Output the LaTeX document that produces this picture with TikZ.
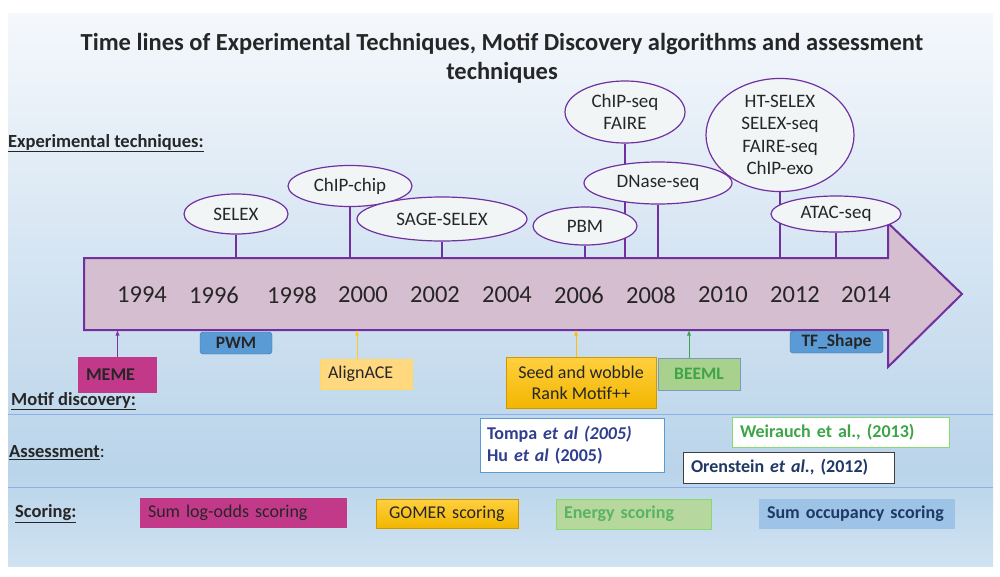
\documentclass[tikz,border=0pt]{standalone}
\usepackage{fontspec}
\setmainfont{Carlito}
\usepackage{tikz}
\usetikzlibrary{shapes.geometric, arrows, backgrounds}
\definecolor{purp}{HTML}{7030A0}
\definecolor{bodyfill}{HTML}{D5BED0}
\definecolor{techfill}{HTML}{F2F5F6}
\definecolor{magenta}{HTML}{C2398A}
\definecolor{pwmblue}{HTML}{5B9BD5}
\definecolor{pwmedge}{HTML}{41719C}
\definecolor{paleyellow}{HTML}{FFD880}
\definecolor{gold}{HTML}{FFC000}
\definecolor{leaf}{HTML}{A9D18E}
\definecolor{leaftext}{HTML}{3DA548}
\definecolor{navy}{HTML}{2F3E8F}
\definecolor{darknavy}{HTML}{1F3864}
\definecolor{skyblue}{HTML}{9DC3E6}
\definecolor{bgtop}{HTML}{F5F8FC}
\definecolor{bgmid}{HTML}{BAD4EA}
\definecolor{bgbot}{HTML}{CFE2F1}
\tikzstyle{tech}  = [ellipse, draw=purp, line width=1.2pt, fill=techfill, inner sep=0pt, align=center, font=\fontsize{19}{22}\selectfont]
\tikzstyle{stem}  = [draw=purp, line width=2.2pt]
\tikzstyle{year}  = [font=\fontsize{24.5}{26}\selectfont]
\tikzstyle{row}   = [anchor=west, inner sep=0pt, font=\bfseries\fontsize{18.5}{21}\selectfont]
\tikzstyle{mbox}  = [rectangle, inner sep=0pt, align=left, font=\fontsize{18}{21}\selectfont]
\tikzstyle{rise}  = [->, >=latex, line width=0.9pt]
\tikzset{every node/.style={text=black!85}}

\begin{document}
\begin{tikzpicture}[x=1pt, y=-1pt]
    \useasboundingbox (0,0) rectangle (1000,576);

    % timeline arrow
    \draw [draw=purp, line width=2pt, fill=bodyfill]
          (84,258) -- (888,258) -- (888,223) -- (962,294) -- (888,367) -- (888,330) -- (84,330) -- cycle;
    \coordinate (top) at (84,258);
    \coordinate (bot) at (84,330);

    \node (title) at (502,58) [align=center, font=\bfseries\fontsize{24.5}{29}\selectfont]
          {Time lines of Experimental Techniques, Motif Discovery algorithms and assessment\\techniques};

    \node at (142,295) [year] {1994};
    \node at (214,295) [year] {1996};
    \node at (292,295) [year] {1998};
    \node at (363,295) [year] {2000};
    \node at (435,295) [year] {2002};
    \node at (507,295) [year] {2004};
    \node at (579,295) [year] {2006};
    \node at (651,295) [year] {2008};
    \node at (723,295) [year] {2010};
    \node at (795,295) [year] {2012};
    \node at (866,295) [year] {2014};

    % experimental techniques
    \node (exp)      at (8,143)   [row] {\underline{Experimental techniques:}};
    \node (selex)    at (236,214) [tech, minimum width=104pt, minimum height=40pt] {SELEX};
    \node (chipchip) at (350,186) [tech, minimum width=124pt, minimum height=41pt] {ChIP-chip};
    \node (sage)     at (442,219) [tech, minimum width=170pt, minimum height=44pt] {SAGE-SELEX};
    \node (pbm)      at (585,226) [tech, minimum width=104pt, minimum height=38pt] {PBM};
    \node (dnase)    at (658,183) [tech, minimum width=148pt, minimum height=42pt] {DNase-seq};
    \node (chipseq)  at (625,112) [tech, minimum width=120pt, minimum height=62pt] {ChIP-seq\\FAIRE};
    \node (htselex)  at (780,135) [tech, minimum width=148pt, minimum height=86pt, font=\fontsize{19}{22.5}\selectfont]
          {HT-SELEX\\SELEX-seq\\FAIRE-seq\\ChIP-exo};
    \node (atac)     at (836,214) [tech, minimum width=130pt, minimum height=36pt] {ATAC-seq};

    % motif discovery
    \node (motif) at (11,401) [row] {\underline{Motif discovery:}};
    \node (meme)  at (117.5,375) [mbox, fill=magenta, minimum width=79pt, minimum height=36pt, text width=63pt,
                                  font=\bfseries\fontsize{18}{21}\selectfont] {MEME};
    \node (pwm)   at (236,343) [mbox, fill=pwmblue, draw=pwmedge, rounded corners=3pt, align=center,
                                minimum width=72pt, minimum height=22pt, font=\bfseries\fontsize{17.5}{19}\selectfont] {PWM};
    \node (align) at (366,374) [mbox, fill=paleyellow, draw=gold!60, minimum width=92pt, minimum height=30pt, text width=76pt] {AlignACE};
    \node (seed)  at (581,382.5) [mbox, top color=gold!75, bottom color=gold!95!black, draw=gold!80!black, align=center,
                                  minimum width=150pt, minimum height=51pt] {Seed and wobble\\Rank Motif++};
    \node (beeml) at (699,374) [mbox, fill=leaf, draw=pwmedge!70, align=center, minimum width=82pt, minimum height=32pt,
                                text=leaftext, font=\bfseries\fontsize{17.5}{19}\selectfont] {BEEML};
    \node (tfshape) at (836.5,342) [mbox, fill=pwmblue, draw=pwmedge, rounded corners=3pt, align=center,
                                    minimum width=93pt, minimum height=22pt, font=\bfseries\fontsize{17.5}{19}\selectfont] {TF\_Shape};

    \draw [rise, draw=purp!80!magenta] (meme.north) -- (meme.north |- bot);
    \draw [rise, draw=gold!85]        (align.north -| 357,0) -- (357,330);
    \draw [rise, draw=gold]           (seed.north -| 576,0) -- (576,330);
    \draw [rise, draw=leaftext]       (beeml.north -| 689,0) -- (689,330);

    % assessment
    \node (assess) at (9,453) [row] {\underline{Assessment}\mdseries:};
    \node (tompa) at (572,445) [mbox, fill=white, draw=pwmblue, minimum width=184pt, minimum height=54pt, text width=170pt,
                                text=navy, font=\bfseries\fontsize{18}{22}\selectfont]
          {Tompa \textit{et al (2005)}\\Hu \textit{et al} (2005)};
    \node (weir)  at (840.5,432) [mbox, fill=white, draw=leaf!80!green, minimum width=217pt, minimum height=30pt, text width=201pt,
                                  text=leaftext, font=\bfseries\fontsize{18}{21}\selectfont] {Weirauch et al., (2013)};
    \node (oren)  at (788.5,467.5) [mbox, fill=white, draw=black!75, minimum width=211pt, minimum height=31pt, text width=195pt,
                                    text=darknavy, font=\bfseries\fontsize{18}{21}\selectfont] {Orenstein \textit{et al.}, (2012)};

    % scoring
    \node (scoring) at (15,514) [row] {\underline{Scoring:}};
    \node (sumlog) at (243.5,513) [mbox, fill=magenta, minimum width=207pt, minimum height=30pt, text width=191pt] {Sum log-odds scoring};
    \node (gomer)  at (447,513.5) [mbox, top color=gold!75, bottom color=gold!95!black, draw=gold!80!black,
                                   minimum width=142pt, minimum height=29pt, text width=116pt] {GOMER scoring};
    \node (energy) at (633.5,514) [mbox, fill=leaf!85, draw=leaf!80!green, minimum width=155pt, minimum height=30pt, text width=139pt,
                                   text=leaftext!85, font=\bfseries\fontsize{18}{21}\selectfont] {Energy scoring};
    \node (sumocc) at (857,514) [mbox, fill=skyblue, minimum width=196pt, minimum height=30pt, text width=180pt,
                                 text=darknavy, font=\bfseries\fontsize{18}{21}\selectfont] {Sum occupancy scoring};

    \begin{pgfonlayer}{background}
        \shade [top color=bgtop, bottom color=bgmid] (8,13) rectangle (993,470);
        \shade [top color=bgmid, bottom color=bgbot] (8,470) rectangle (993,566);
        \draw [skyblue!90!blue, line width=1pt] (8,414) -- (993,414);
        \draw [skyblue!90!blue, line width=1pt] (8,487) -- (993,487);
        % stems
        \draw [stem] (selex.south)    -- (selex.south |- top);
        \draw [stem] (chipchip.south) -- (chipchip.south |- top);
        \draw [stem] (sage.south)     -- (sage.south |- top);
        \draw [stem] (pbm.south)      -- (pbm.south |- top);
        \draw [stem] (dnase.south)    -- (dnase.south |- top);
        \draw [stem] (chipseq.south)  -- (chipseq.south |- top);
        \draw [stem] (htselex.south)  -- (htselex.south |- top);
        \draw [stem] (atac.south)     -- (atac.south |- top);
    \end{pgfonlayer}
\end{tikzpicture}
\end{document}
